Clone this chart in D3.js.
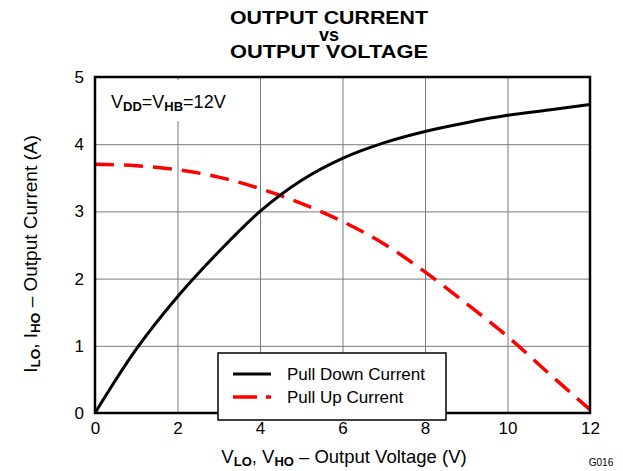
<!DOCTYPE html>
<html><head><meta charset="utf-8">
<script src="https://cdn.jsdelivr.net/npm/d3@7"></script>
<style>
body{margin:0;background:#fff;}
text{font-family:"Liberation Sans",Arial,sans-serif;}
</style></head>
<body><svg id="c" width="623" height="471"></svg>
<script>
const xTicks = [0, 2, 4, 6, 8, 10, 12];
const yTicks = [0, 1, 2, 3, 4, 5];
const pullDownV = [0, 1, 2, 3, 4, 5, 6, 7, 8, 9, 10, 11, 12];
const pullDownI = [0, 0.95, 1.73, 2.40, 3.00, 3.46, 3.79, 4.02, 4.19, 4.32, 4.43, 4.51, 4.59];
const pullUpV = [0, 1, 2, 3, 4, 5, 6, 7, 8, 9, 10, 11, 12];
const pullUpI = [3.70, 3.68, 3.62, 3.51, 3.34, 3.12, 2.85, 2.52, 2.10, 1.63, 1.14, 0.59, 0.05];
const seriesNames = ["Pull Down Current", "Pull Up Current"];

const svg = d3.select("#c");
const L = 95, R = 590, T = 77, B = 413;
const x = d3.scaleLinear().domain([0, 12]).range([L, R]);
const y = d3.scaleLinear().domain([0, 5]).range([B, T]);

// grid
svg.append("g").attr("transform", `translate(0,${B})`)
  .call(d3.axisBottom(x).tickValues(xTicks.slice(1, -1)).tickSize(-(B - T)).tickFormat(""))
  .call(g => { g.select(".domain").remove(); g.selectAll("line").attr("stroke", "#7a7a7a").attr("stroke-width", 1); });
svg.append("g").attr("transform", `translate(${L},0)`)
  .call(d3.axisLeft(y).tickValues(yTicks.slice(1, -1)).tickSize(-(R - L)).tickFormat(""))
  .call(g => { g.select(".domain").remove(); g.selectAll("line").attr("stroke", "#7a7a7a").attr("stroke-width", 1); });

// annotation background (hides part of grid)
svg.append("rect").attr("x", 100).attr("y", 80).attr("width", 150).attr("height", 41).attr("fill", "#fff");
const ann = svg.append("text").attr("x", 111).attr("y", 108).attr("font-size", 18).attr("fill", "#000");
ann.append("tspan").text("V");
ann.append("tspan").attr("font-size", 13).attr("font-weight", "bold").attr("dy", 3).text("DD");
ann.append("tspan").attr("dy", -3).text("=V");
ann.append("tspan").attr("font-size", 13).attr("font-weight", "bold").attr("dy", 3).text("HB");
ann.append("tspan").attr("dy", -3).text("=12V");

// tick labels
svg.append("g").attr("transform", `translate(0,${B})`)
  .call(d3.axisBottom(x).tickValues(xTicks).tickSize(0).tickPadding(9).tickFormat(d3.format("d")))
  .call(g => { g.select(".domain").remove(); g.selectAll("text").attr("font-size", 17).attr("fill", "#000").attr("font-family", "Liberation Sans, Arial, sans-serif"); });
svg.append("g").attr("transform", `translate(${L},0)`)
  .call(d3.axisLeft(y).tickValues(yTicks).tickSize(0).tickPadding(11).tickFormat(d3.format("d")))
  .call(g => { g.select(".domain").remove(); g.selectAll("text").attr("font-size", 17).attr("fill", "#000").attr("font-family", "Liberation Sans, Arial, sans-serif"); });

// curves
const line = d3.line().x(d => x(d[0])).y(d => y(d[1])).curve(d3.curveCatmullRom.alpha(0.5));
svg.append("path").datum(pullUpV.map((v, i) => [v, pullUpI[i]]))
  .attr("d", line).attr("fill", "none").attr("stroke", "#ff0000").attr("stroke-width", 3.5)
  .attr("stroke-dasharray", "19,10");
svg.append("path").datum(pullDownV.map((v, i) => [v, pullDownI[i]]))
  .attr("d", line).attr("fill", "none").attr("stroke", "#000").attr("stroke-width", 3);

// frame
svg.append("rect").attr("x", L).attr("y", T).attr("width", R - L).attr("height", B - T)
  .attr("fill", "none").attr("stroke", "#000").attr("stroke-width", 2.5);

// legend
const lg = svg.append("g");
lg.append("rect").attr("x", 218).attr("y", 353).attr("width", 228).attr("height", 67)
  .attr("fill", "#fff").attr("stroke", "#000").attr("stroke-width", 1.5);
lg.append("line").attr("x1", 233).attr("x2", 271).attr("y1", 374).attr("y2", 374)
  .attr("stroke", "#000").attr("stroke-width", 3);
lg.append("line").attr("x1", 233).attr("x2", 271).attr("y1", 397).attr("y2", 397)
  .attr("stroke", "#ff0000").attr("stroke-width", 3.5).attr("stroke-dasharray", "24,9");
lg.selectAll("text.lt").data(seriesNames).join("text").attr("class", "lt")
  .attr("x", 287).attr("y", (d, i) => 380 + i * 23).attr("font-size", 17).attr("fill", "#000").text(d => d);

// title
const title = svg.append("text").attr("text-anchor", "middle").attr("font-weight", "bold").attr("font-size", 18).attr("fill", "#000");
title.append("tspan").attr("x", 329).attr("y", 24).attr("textLength", 198).attr("lengthAdjust", "spacingAndGlyphs").text("OUTPUT CURRENT");
title.append("tspan").attr("x", 329).attr("y", 41).text("vs");
title.append("tspan").attr("x", 329).attr("y", 58).attr("textLength", 198).attr("lengthAdjust", "spacingAndGlyphs").text("OUTPUT VOLTAGE");

// x title
const xt = svg.append("text").attr("text-anchor", "middle").attr("x", 344).attr("y", 463).attr("font-size", 18.5).attr("fill", "#000");
xt.append("tspan").text("V");
xt.append("tspan").attr("font-size", 13).attr("font-weight", "bold").attr("dy", 3).text("LO");
xt.append("tspan").attr("dy", -3).text(", V");
xt.append("tspan").attr("font-size", 13).attr("font-weight", "bold").attr("dy", 3).text("HO");
xt.append("tspan").attr("dy", -3).text(" \u2013 Output Voltage (V)");

// y title
const yt = svg.append("text").attr("text-anchor", "middle").attr("transform", "translate(37,254) rotate(-90)").attr("font-size", 19).attr("fill", "#000");
yt.append("tspan").text("I");
yt.append("tspan").attr("font-size", 13.5).attr("font-weight", "bold").attr("dy", 3).text("LO");
yt.append("tspan").attr("dy", -3).text(", I");
yt.append("tspan").attr("font-size", 13.5).attr("font-weight", "bold").attr("dy", 3).text("HO");
yt.append("tspan").attr("dy", -3).text(" \u2013 Output Current (A)");

// figure id
svg.append("text").attr("x", 601).attr("y", 466).attr("text-anchor", "middle").attr("font-size", 10).attr("fill", "#000").text("G016");
</script></body></html>
